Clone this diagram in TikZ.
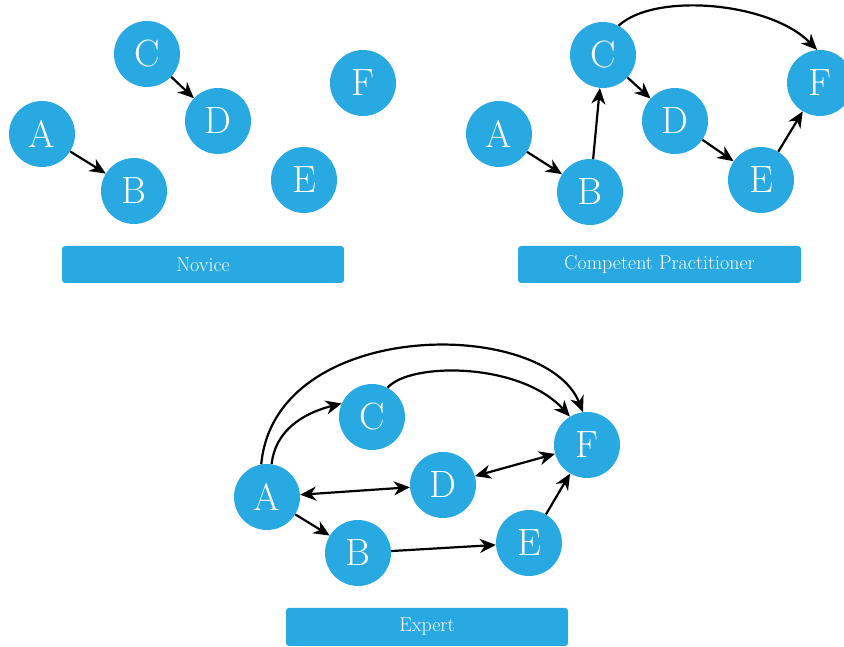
\documentclass[tikz,border=0pt]{standalone}
\usetikzlibrary{arrows.meta}
\definecolor{nodeblue}{HTML}{29A9E1}
\tikzset{
  vert/.style={circle, fill=nodeblue, draw=none, minimum size=66pt, inner sep=0pt, text=white, font=\fontsize{38}{38}\selectfont},
  bar/.style={rectangle, fill=nodeblue, rounded corners=3pt, minimum height=37pt, text=white, font=\fontsize{20}{20}\selectfont, inner sep=0pt},
  arr/.style={line width=2.2pt, -{Stealth[length=16pt,width=14pt,inset=5pt]}},
  darr/.style={line width=2.2pt, {Stealth[length=16pt,width=14pt,inset=5pt]}-{Stealth[length=16pt,width=14pt,inset=5pt]}}
}
\begin{document}
\begin{tikzpicture}[x=1pt,y=1pt]
\useasboundingbox (0,0) rectangle (844,647);
\clip (0,0) rectangle (844,647);
% Novice
\node[vert] (nA) at (42,513) {A};
\node[vert] (nB) at (134,456) {B};
\node[vert] (nC) at (147,593) {C};
\node[vert] (nD) at (218,526) {D};
\node[vert] (nE) at (304,467) {E};
\node[vert] (nF) at (363,564) {F};
\node[bar, minimum width=282pt] (nbar) at (203,382.5) {Novice};
\draw[arr] (nA) -- (nB);
\draw[arr] (nC) -- (nD);
% Competent
\node[vert] (cA) at (499,513) {A};
\node[vert] (cB) at (590,455) {B};
\node[vert] (cC) at (603,592) {C};
\node[vert] (cD) at (675,526) {D};
\node[vert] (cE) at (761,467) {E};
\node[vert] (cF) at (820,564) {F};
\node[bar, minimum width=283pt] (cbar) at (659.5,382.5) {Competent Practitioner};
\draw[arr] (cA) -- (cB);
\draw[arr] (cB) -- (cC);
\draw[arr] (cC) -- (cD);
\draw[arr] (cD) -- (cE);
\draw[arr] (cE) -- (cF);
\draw[arr] (cC.62) .. controls (655,655) and (770,645) .. (cF.95);
% Expert
\node[vert] (eA) at (267,150) {A};
\node[vert] (eB) at (358,94) {B};
\node[vert] (eC) at (372,230) {C};
\node[vert] (eD) at (443,162) {D};
\node[vert] (eE) at (529,104) {E};
\node[vert] (eF) at (587,202) {F};
\node[bar, minimum width=282pt, minimum height=38pt] (ebar) at (427,20) {Expert};
\draw[arr] (eA.82) .. controls (276,222) and (312,236) .. (eC.156);
\draw[arr] (eA.100) .. controls (275,330) and (545,330) .. (eF.97);
\draw[arr] (eC.62) .. controls (410,285) and (520,285) .. (eF.121);
\draw[darr] (eA) -- (eD);
\draw[darr] (eD) -- (eF);
\draw[arr] (eA) -- (eB);
\draw[arr] (eB) -- (eE);
\draw[arr] (eE) -- (eF);
\end{tikzpicture}
\end{document}
